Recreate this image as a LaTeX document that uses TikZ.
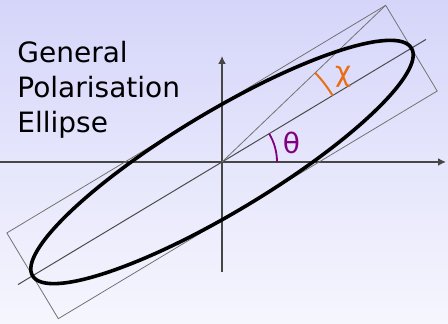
\documentclass[tikz,border=0pt]{standalone}
\usepackage{fontspec}
\setmainfont{DejaVu Sans}
\usetikzlibrary{arrows.meta}

\definecolor{bgtop}{RGB}{213,213,250}
\definecolor{bgbottom}{RGB}{246,246,254}
\definecolor{axisgray}{RGB}{70,70,70}
\definecolor{thetacol}{RGB}{128,0,128}
\definecolor{chicol}{RGB}{232,110,20}

\begin{document}
\begin{tikzpicture}[
    x=0.5pt, y=0.5pt,
    axis/.style={axisgray, line width=1pt, -{Latex[length=4pt,width=4pt]}},
    thinline/.style={gray!90!black, line width=0.4pt},
    guideline/.style={black!70, line width=0.5pt},
    polar/.style={black, line width=1.8pt},
    label/.style={font=\fontsize{14pt}{17.5pt}\selectfont, inner sep=0pt}
]

% background
\shade[shading angle=-30, top color=bgtop, bottom color=bgbottom]
    (0,0) rectangle (448,324);
\useasboundingbox (0,0) rectangle (448,324);

% axes
\coordinate (O) at (222,162);
\coordinate (xstart) at (0,162);
\coordinate (xend) at (446,162);
\coordinate (ystart) at (222,52);
\coordinate (yend) at (222,268);
\draw[axis] (xstart) -- (xend);
\draw[axis] (ystart) -- (yend);

% ellipse, bounding box and major axis
\begin{scope}[shift={(O)}, rotate=31]
    \coordinate (corner) at (221,50);
    \coordinate (majA) at (-238,0);
    \coordinate (majB) at (238,0);
    \draw[thinline] (-221,-50) rectangle (221,50);
    \draw[guideline] (majA) -- (majB);
    \draw[thinline] (0,0) -- (corner);
    \draw[polar] (0,0) ellipse (221 and 50);
\end{scope}

% angle markers
\draw[thetacol, line width=0.9pt] ([shift={(0:55)}]O) arc (0:31:55);
\draw[chicol, line width=1pt] ([shift={(31:129)}]O) arc (31:43.6:129);
\node[label, text=thetacol] (theta) at ([shift={(15:72)}]O) {θ};
\node[label, text=chicol] (chi) at ([shift={(35:148)}]O) {χ};

% title
\node[label, anchor=north west, align=left] (title) at (17,283)
    {General\\Polarisation\\Ellipse};

\end{tikzpicture}
\end{document}
